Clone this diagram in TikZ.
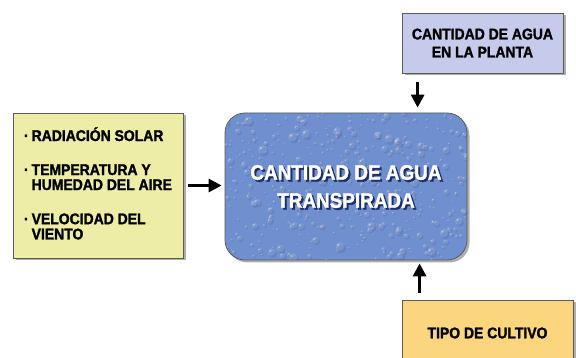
\documentclass[tikz,border=0pt]{standalone}
\usepackage{fontspec}
\setmainfont{Liberation Sans}[FakeStretch=0.9, BoldFeatures={FakeBold=1.6}]
\usetikzlibrary{arrows.meta,shadows,positioning}

\definecolor{amarillo}{HTML}{EDEDA8}
\definecolor{lila}{HTML}{C6CBEC}
\definecolor{naranja}{HTML}{FCD67E}
\definecolor{azulgota}{HTML}{6F8FCF}
\definecolor{azulsombra}{HTML}{1F2F66}
\definecolor{borde}{HTML}{5A5A5A}

\tikzset{
  caja/.style={draw=borde, line width=0.8pt, inner sep=0pt,
    drop shadow={shadow xshift=2.5pt, shadow yshift=-2.5pt, opacity=0.45, fill=black!70}},
  texto/.style={font=\bfseries\fontsize{15.5}{18}\selectfont, align=center, inner sep=0pt},
  textogrande/.style={font=\bfseries\fontsize{21}{28}\selectfont, align=center, inner sep=0pt},
  flecha/.style={-{Triangle[length=13pt,width=13pt]}, line width=3pt},
}

\begin{document}
\begin{tikzpicture}[x=1pt,y=-1pt]
  \useasboundingbox[fill=white] (0,0) rectangle (576,358);

  \node[caja, fill=amarillo, minimum width=170, minimum height=145] (factores) at (98,185.5)
    {\bfseries\fontsize{15.5}{14.5}\selectfont
     \begin{tabular}{@{}l@{\hspace{3pt}}l@{}}
       ·&RADIACIÓN SOLAR\\[19pt]
       ·&TEMPERATURA Y\\
        &HUMEDAD DEL AIRE\\[19pt]
       ·&VELOCIDAD DEL\\
        &VIENTO
     \end{tabular}};

  \node[caja, fill=lila, minimum width=161, minimum height=60] (aguaplanta) at (482.5,43) {};
  \node[texto] (aguaplantatxt) at (aguaplanta) {CANTIDAD DE AGUA\\EN LA PLANTA};

  \node[caja, fill=naranja, minimum width=171, minimum height=64] (cultivo) at (487.5,332) {};
  \node[texto] (cultivotxt) at ([yshift=-1pt]cultivo) {TIPO DE CULTIVO};

  \node[caja, fill=azulgota, rounded corners=20pt, minimum width=242, minimum height=147] (transpirada) at (346,186.5) {};
  \begin{scope}
    \clip[rounded corners=20pt] (transpirada.south west) rectangle (transpirada.north east);
    \pgfmathsetseed{11}
    \foreach \i in {1,...,420} {
      \pgfmathsetmacro{\gx}{225+242*rnd}
      \pgfmathsetmacro{\gy}{113+147*rnd}
      \pgfmathsetmacro{\gr}{1+3.5*rnd*rnd}
      \fill[azulsombra, opacity=0.13] (\gx+0.4*\gr,\gy+0.5*\gr) circle[radius=\gr pt];
      \fill[white, opacity=0.14] (\gx,\gy) circle[radius=\gr pt];
      \fill[white, opacity=0.4] (\gx-0.35*\gr,\gy-0.35*\gr) circle[radius=0.3*\gr pt];
    }
  \end{scope}
  \node[textogrande, text=azulsombra] (sombratxt) at ([shift={(2,2)}]transpirada) {CANTIDAD DE AGUA\\TRANSPIRADA};
  \node[textogrande, text=white] (transpiradatxt) at (transpirada) {CANTIDAD DE AGUA\\TRANSPIRADA};

  \draw[flecha, shorten <=5pt, shorten >=3pt] (factores.east) -- (factores.east -| transpirada.west);
  \draw[flecha, shorten <=9pt, shorten >=5pt] ([xshift=16pt]aguaplanta.south west) -- ([xshift=16pt]aguaplanta.south west |- transpirada.north);
  \draw[flecha, shorten <=7pt, shorten >=3pt] ([xshift=18pt]cultivo.north west) -- ([xshift=18pt]cultivo.north west |- transpirada.south);
\end{tikzpicture}
\end{document}
